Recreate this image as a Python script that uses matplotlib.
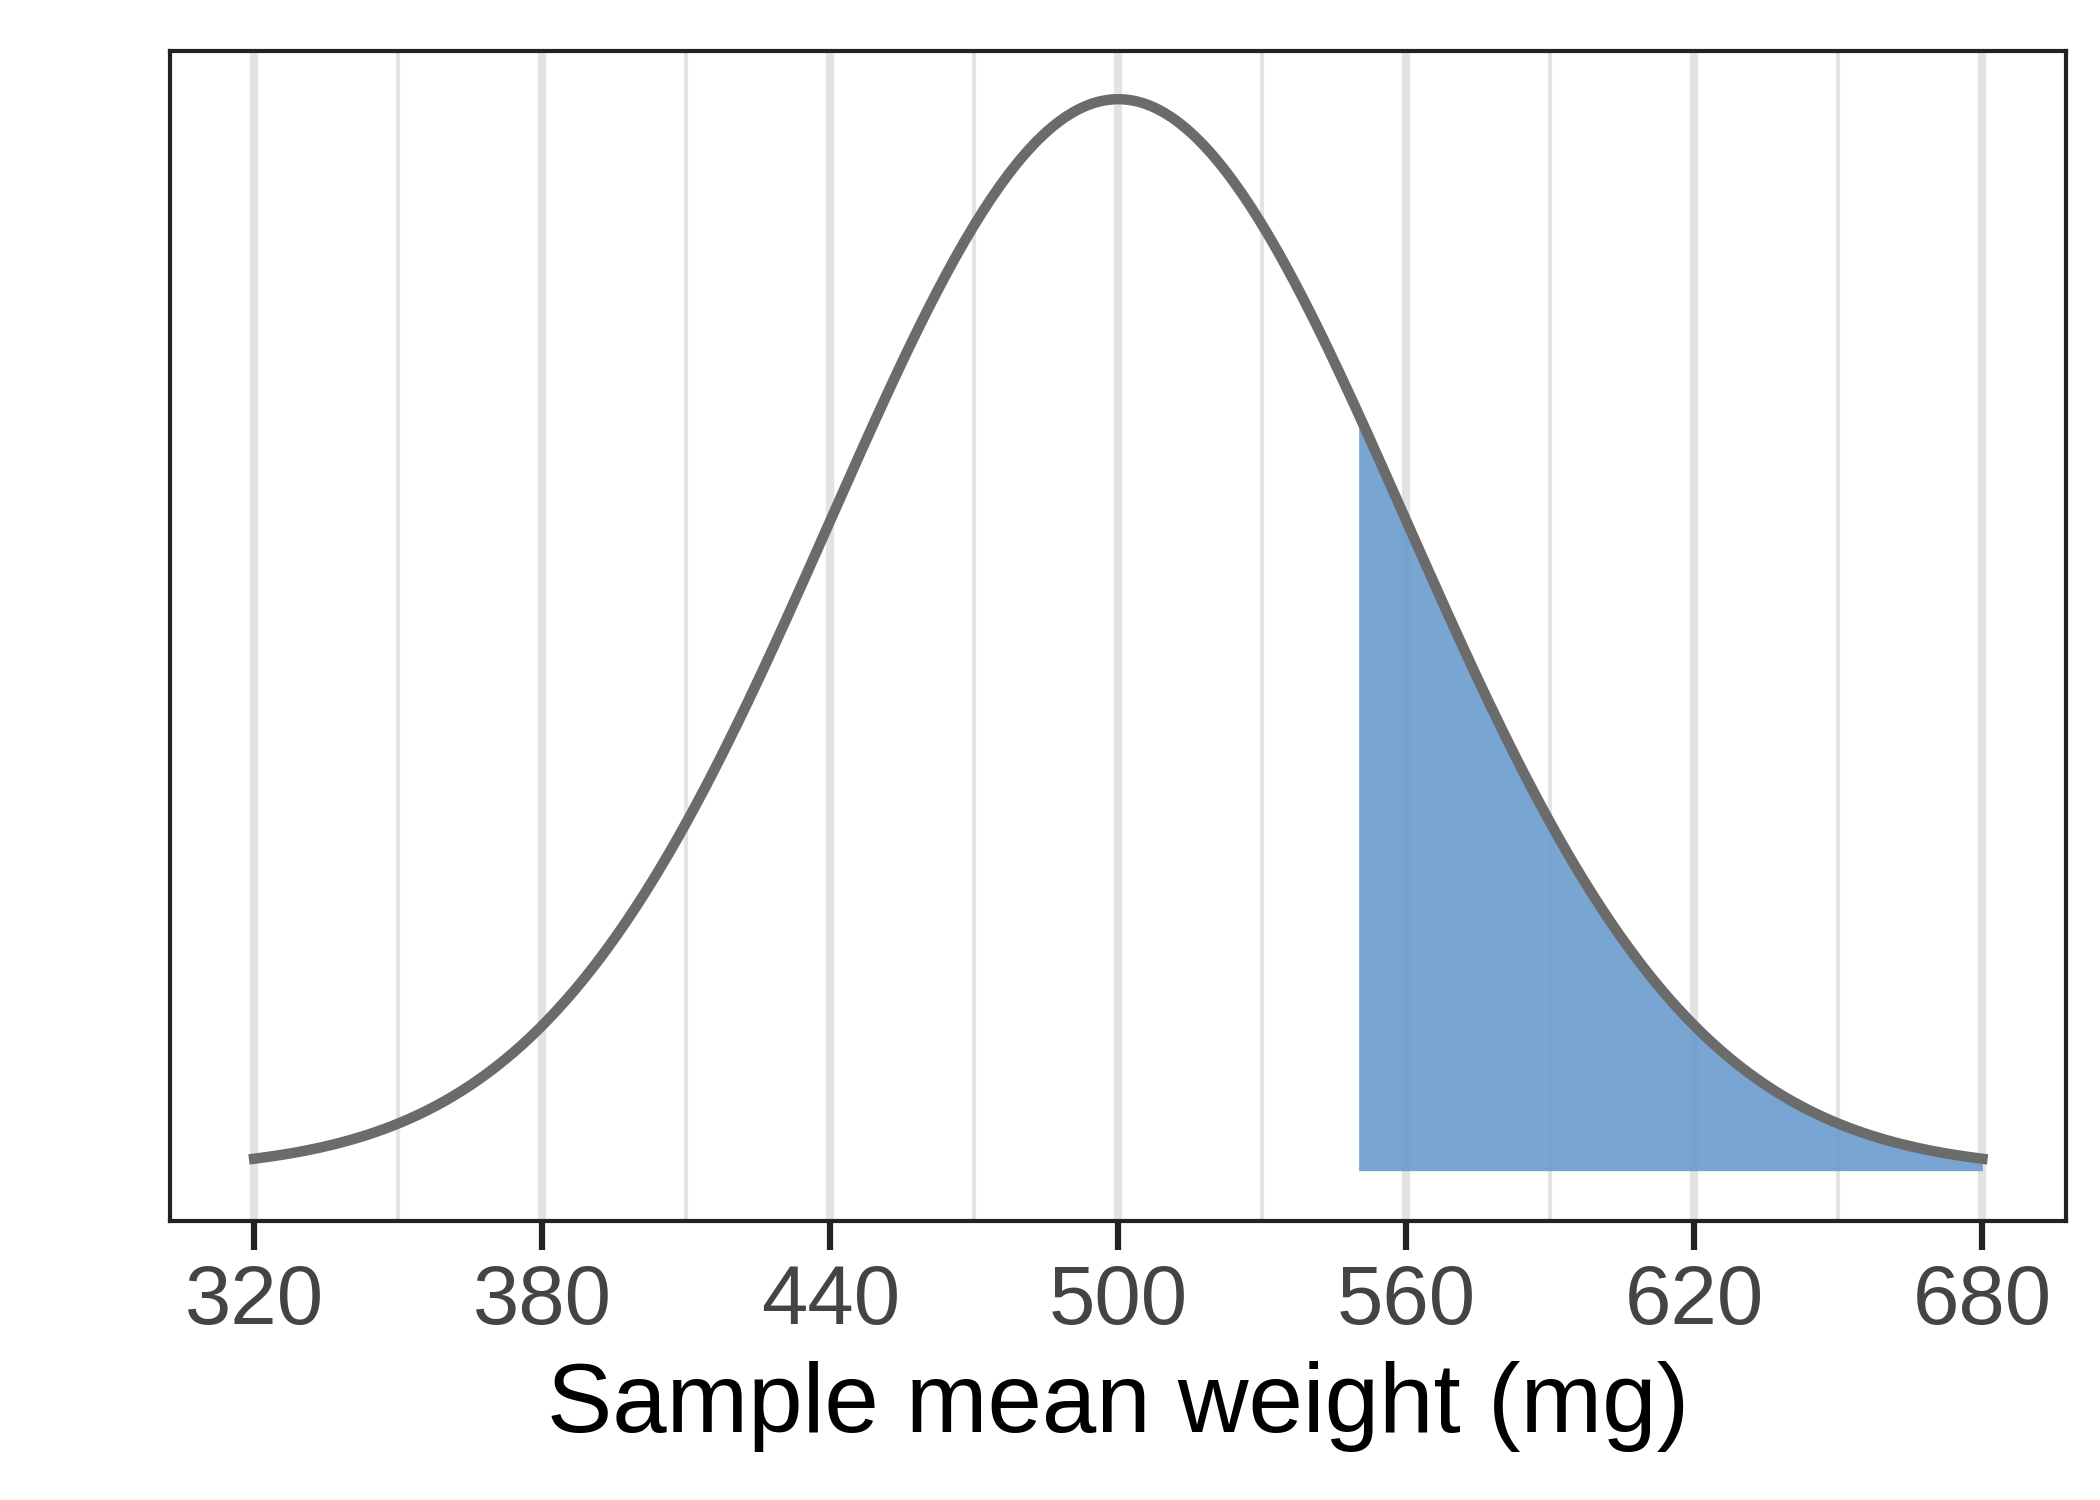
import numpy as np
import matplotlib
matplotlib.use('Agg')
import matplotlib.pyplot as plt

plt.rcParams['font.family'] = ['Liberation Sans', 'DejaVu Sans']

# sampling distribution of the mean
mu = 500.0
se = 60.0
x_lo, x_hi = 320.0, 680.0
cut = 550.0
major_ticks = [320, 380, 440, 500, 560, 620, 680]
minor_grid = [350, 410, 470, 530, 590, 650]

x = np.linspace(x_lo, x_hi, 400)
y = np.exp(-0.5 * ((x - mu) / se) ** 2) / (se * np.sqrt(2 * np.pi))
peak = y.max()

fig = plt.figure(figsize=(14, 10), dpi=150)
ax = fig.add_axes([0.081, 0.186, 0.903, 0.780])

for t in major_ticks:
    ax.axvline(t, color='#e3e3e3', linewidth=4, zorder=0)
for t in minor_grid:
    ax.axvline(t, color='#e3e3e3', linewidth=2, zorder=0)

mask = x >= cut
ax.fill_between(x[mask], 0, y[mask], color='#6699cc', alpha=0.88,
                linewidth=0, zorder=1)
ax.plot(x, y, color='#6b6b6b', linewidth=5, zorder=2)

ax.set_xlim(302.5, 697.5)
ax.set_ylim(-0.047 * peak, 1.045 * peak)
ax.set_yticks([])
ax.set_xticks(major_ticks)
ax.tick_params(axis='x', direction='out', length=14, width=3,
               color='#222222', labelsize=40, labelcolor='#444444', pad=6)
for s in ax.spines.values():
    s.set_linewidth(2)
    s.set_color('#222222')
ax.set_xlabel('Sample mean weight (mg)', fontsize=47, labelpad=10)

plt.savefig('out.png', dpi=150)
